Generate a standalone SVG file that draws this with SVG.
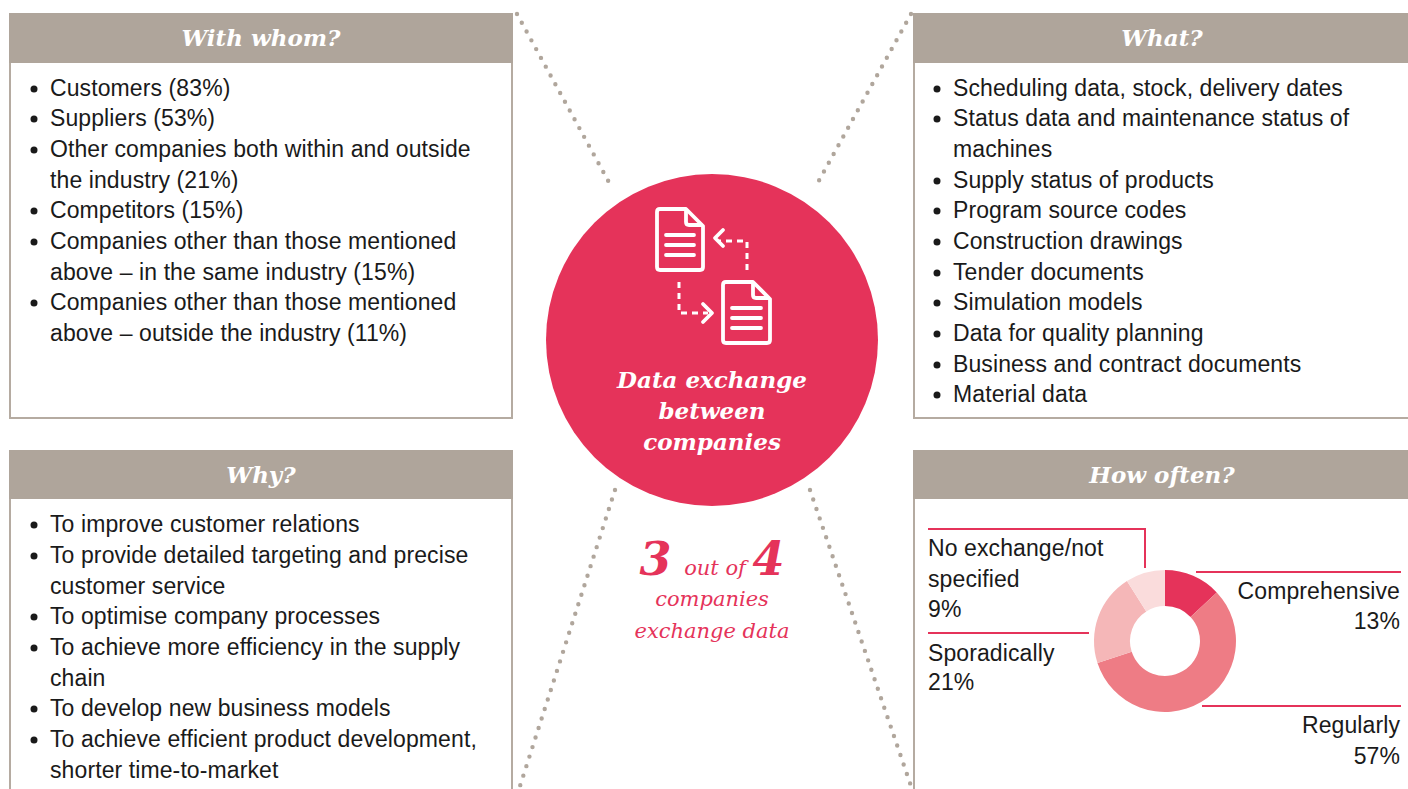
<svg xmlns="http://www.w3.org/2000/svg" width="1408" height="789" viewBox="0 0 1408 789">
<style>
.hdr{fill:#afa59b}
.body{fill:#ffffff;stroke:#b5aba1;stroke-width:2}
.ht{font-family:"DejaVu Serif",serif;font-weight:bold;font-style:italic;font-size:23px;fill:#ffffff;text-anchor:middle}
.t{font-family:"Liberation Sans",Arial,sans-serif;font-size:23px;letter-spacing:0.1px;fill:#1a1a1a}
.tr{font-family:"Liberation Sans",Arial,sans-serif;font-size:23px;letter-spacing:0.1px;fill:#1a1a1a;text-anchor:end}
.dot{fill:#1a1a1a}
.dots{stroke:#b0a69c;stroke-width:4.4;stroke-linecap:round;stroke-dasharray:0 10;fill:none}
.lead{stroke:#e5335a;stroke-width:2;fill:none}
.icon{stroke:#ffffff;stroke-width:3.8;fill:none;stroke-linecap:round;stroke-linejoin:round}
.dash{stroke:#ffffff;stroke-width:3;fill:none;stroke-dasharray:6 5}
.ct{font-family:"DejaVu Serif",serif;font-weight:bold;font-style:italic;font-size:23px;fill:#ffffff;text-anchor:middle}
.pk{font-family:"DejaVu Serif",serif;font-style:italic;font-size:21px;fill:#e5335a;text-anchor:middle}
</style>

<g id="connectors">
<line class="dots" x1="517" y1="14" x2="611" y2="186"/>
<line class="dots" x1="911" y1="14" x2="816" y2="186"/>
<line class="dots" x1="615" y1="490" x2="520" y2="786"/>
<line class="dots" x1="810" y1="490" x2="911" y2="786"/>
</g>

<g id="with-whom">
<rect class="body" x="10" y="62" width="502" height="356"/>
<rect class="hdr" x="9" y="13" width="504" height="50"/>
<text class="ht" x="261" y="46">With whom?</text>
<circle class="dot" cx="34" cy="89" r="3.5"/>
<text class="t" x="50" y="96">Customers (83%)</text>
<circle class="dot" cx="34" cy="119" r="3.5"/>
<text class="t" x="50" y="126">Suppliers (53%)</text>
<circle class="dot" cx="34" cy="150" r="3.5"/>
<text class="t" x="50" y="157">Other companies both within and outside</text>
<text class="t" x="50" y="188">the industry (21%)</text>
<circle class="dot" cx="34" cy="211" r="3.5"/>
<text class="t" x="50" y="218">Competitors (15%)</text>
<circle class="dot" cx="34" cy="242" r="3.5"/>
<text class="t" x="50" y="249">Companies other than those mentioned</text>
<text class="t" x="50" y="280">above – in the same industry (15%)</text>
<circle class="dot" cx="34" cy="303" r="3.5"/>
<text class="t" x="50" y="310">Companies other than those mentioned</text>
<text class="t" x="50" y="341">above – outside the industry (11%)</text>
</g>

<g id="why">
<rect class="body" x="10" y="498" width="502" height="300"/>
<rect class="hdr" x="9" y="450" width="504" height="49"/>
<text class="ht" x="261" y="483">Why?</text>
<circle class="dot" cx="34" cy="525" r="3.5"/>
<text class="t" x="50" y="532">To improve customer relations</text>
<circle class="dot" cx="34" cy="556" r="3.5"/>
<text class="t" x="50" y="563">To provide detailed targeting and precise</text>
<text class="t" x="50" y="594">customer service</text>
<circle class="dot" cx="34" cy="617" r="3.5"/>
<text class="t" x="50" y="624">To optimise company processes</text>
<circle class="dot" cx="34" cy="648" r="3.5"/>
<text class="t" x="50" y="655">To achieve more efficiency in the supply</text>
<text class="t" x="50" y="686">chain</text>
<circle class="dot" cx="34" cy="709" r="3.5"/>
<text class="t" x="50" y="716">To develop new business models</text>
<circle class="dot" cx="34" cy="740" r="3.5"/>
<text class="t" x="50" y="747">To achieve efficient product development,</text>
<text class="t" x="50" y="778">shorter time-to-market</text>
</g>

<g id="what">
<rect class="body" x="914" y="62" width="504" height="356"/>
<rect class="hdr" x="913" y="13" width="500" height="50"/>
<text class="ht" x="1162" y="46">What?</text>
<circle class="dot" cx="937" cy="89" r="3.5"/>
<text class="t" x="953" y="96">Scheduling data, stock, delivery dates</text>
<circle class="dot" cx="937" cy="119" r="3.5"/>
<text class="t" x="953" y="126">Status data and maintenance status of</text>
<text class="t" x="953" y="157">machines</text>
<circle class="dot" cx="937" cy="181" r="3.5"/>
<text class="t" x="953" y="188">Supply status of products</text>
<circle class="dot" cx="937" cy="211" r="3.5"/>
<text class="t" x="953" y="218">Program source codes</text>
<circle class="dot" cx="937" cy="242" r="3.5"/>
<text class="t" x="953" y="249">Construction drawings</text>
<circle class="dot" cx="937" cy="273" r="3.5"/>
<text class="t" x="953" y="280">Tender documents</text>
<circle class="dot" cx="937" cy="303" r="3.5"/>
<text class="t" x="953" y="310">Simulation models</text>
<circle class="dot" cx="937" cy="334" r="3.5"/>
<text class="t" x="953" y="341">Data for quality planning</text>
<circle class="dot" cx="937" cy="365" r="3.5"/>
<text class="t" x="953" y="372">Business and contract documents</text>
<circle class="dot" cx="937" cy="395" r="3.5"/>
<text class="t" x="953" y="402">Material data</text>
</g>

<g id="how-often">
<rect class="body" x="914" y="498" width="504" height="300"/>
<rect class="hdr" x="913" y="450" width="500" height="49"/>
<text class="ht" x="1162" y="483">How often?</text>
<path d="M1165,570 A71,71 0 0 1 1216.76,592.40 L1190.52,617.04 A35,35 0 0 0 1165,606 Z" fill="#e5335a"/>
<path d="M1216.76,592.40 A71,71 0 1 1 1097.47,662.94 L1131.71,651.82 A35,35 0 1 0 1190.52,617.04 Z" fill="#ee7c85"/>
<path d="M1097.47,662.94 A71,71 0 0 1 1126.96,581.05 L1146.25,611.45 A35,35 0 0 0 1131.71,651.82 Z" fill="#f5b7b8"/>
<path d="M1126.96,581.05 A71,71 0 0 1 1165,570 L1165,606 A35,35 0 0 0 1146.25,611.45 Z" fill="#fadcdc"/>
<path class="lead" d="M928,529 H1145 V568"/>
<path class="lead" d="M928,633 H1089"/>
<path class="lead" d="M1196,572 H1401"/>
<path class="lead" d="M1202,706 H1401"/>
<text class="t" x="928" y="556">No exchange/not</text>
<text class="t" x="928" y="587">specified</text>
<text class="t" x="928" y="617">9%</text>
<text class="t" x="928" y="661">Sporadically</text>
<text class="t" x="928" y="690">21%</text>
<text class="tr" x="1400" y="599">Comprehensive</text>
<text class="tr" x="1400" y="629">13%</text>
<text class="tr" x="1400" y="733">Regularly</text>
<text class="tr" x="1400" y="764">57%</text>
</g>

<g id="center">
<circle cx="712" cy="340" r="166" fill="#e5335a"/>
<g id="icon">
<path class="icon" d="M686,209 H660 Q657,209 657,212 V267 Q657,270 660,270 H700 Q703,270 703,267 V226 Z"/>
<path class="icon" d="M686,211 V222 Q686,225 689,225 H701"/>
<line class="icon" x1="666" y1="235" x2="694" y2="235"/>
<line class="icon" x1="666" y1="245" x2="694" y2="245"/>
<line class="icon" x1="666" y1="255" x2="694" y2="255"/>
<path class="icon" d="M753,282 H726 Q723,282 723,285 V340 Q723,343 726,343 H767 Q770,343 770,340 V299 Z"/>
<path class="icon" d="M753,284 V295 Q753,298 756,298 H768"/>
<line class="icon" x1="732" y1="308" x2="761" y2="308"/>
<line class="icon" x1="732" y1="318" x2="761" y2="318"/>
<line class="icon" x1="732" y1="328" x2="761" y2="328"/>
<path class="dash" d="M747,270 V241 H718"/>
<path class="icon" d="M723,230 L715,238 L723,246" stroke-width="3"/>
<path class="dash" d="M679,282 V313 H708"/>
<path class="icon" d="M703,304 L712,313 L703,322" stroke-width="3"/>
</g>
<text class="ct" x="712" y="388">Data exchange</text>
<text class="ct" x="712" y="419">between</text>
<text class="ct" x="712" y="450">companies</text>
</g>

<g id="stat">
<text class="pk" x="712" y="575"><tspan font-size="46" font-weight="bold">3</tspan><tspan dx="6"> out of </tspan><tspan font-size="46" font-weight="bold">4</tspan></text>
<text class="pk" x="712" y="606">companies</text>
<text class="pk" x="712" y="638">exchange data</text>
</g>
</svg>
